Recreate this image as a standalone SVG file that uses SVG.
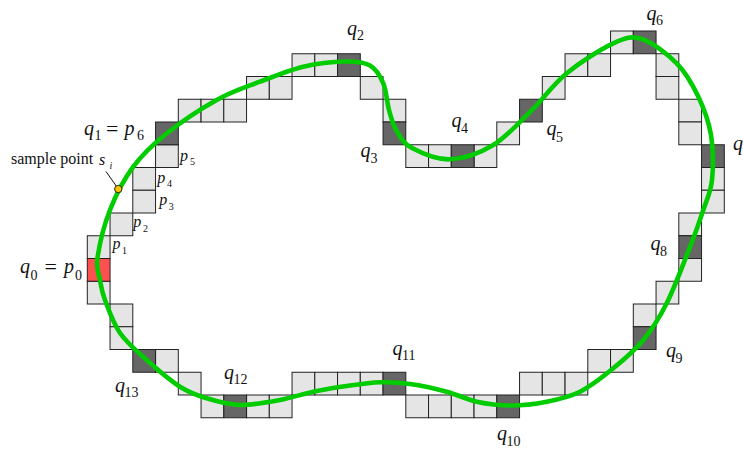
<svg xmlns="http://www.w3.org/2000/svg" width="743" height="453" viewBox="0 0 743 453">
<style>
.L{fill:#e5e5e5;stroke:#222;stroke-width:1}
.D{fill:#666;stroke:#222;stroke-width:1}
.R{fill:#ff5050;stroke:#222;stroke-width:1}
text{font-family:"Liberation Serif","Times New Roman",serif;fill:#111}
.m{font-style:italic;font-size:20px}
.s{font-style:normal;font-size:14px}
.eq{font-style:normal;font-size:22px}
.pm{font-style:italic;font-size:16px}
.ps{font-style:normal;font-size:10px}
.t{font-size:16px}
</style>
<g id="cells">
<g id="light-cells">
<rect class="L" x="87.3" y="235.75" width="22.75" height="22.75"/>
<rect class="L" x="87.3" y="281.25" width="22.75" height="22.75"/>
<rect class="L" x="110.05" y="213" width="22.75" height="22.75"/>
<rect class="L" x="110.05" y="304" width="22.75" height="22.75"/>
<rect class="L" x="110.05" y="326.75" width="22.75" height="22.75"/>
<rect class="L" x="132.8" y="167.5" width="22.75" height="22.75"/>
<rect class="L" x="132.8" y="190.25" width="22.75" height="22.75"/>
<rect class="L" x="155.55" y="144.75" width="22.75" height="22.75"/>
<rect class="L" x="155.55" y="349.5" width="22.75" height="22.75"/>
<rect class="L" x="178.3" y="99.25" width="22.75" height="22.75"/>
<rect class="L" x="178.3" y="372.25" width="22.75" height="22.75"/>
<rect class="L" x="201.05" y="99.25" width="22.75" height="22.75"/>
<rect class="L" x="201.05" y="395" width="22.75" height="22.75"/>
<rect class="L" x="223.8" y="99.25" width="22.75" height="22.75"/>
<rect class="L" x="246.55" y="76.5" width="22.75" height="22.75"/>
<rect class="L" x="246.55" y="395" width="22.75" height="22.75"/>
<rect class="L" x="269.3" y="76.5" width="22.75" height="22.75"/>
<rect class="L" x="269.3" y="395" width="22.75" height="22.75"/>
<rect class="L" x="292.05" y="53.75" width="22.75" height="22.75"/>
<rect class="L" x="292.05" y="372.25" width="22.75" height="22.75"/>
<rect class="L" x="314.8" y="53.75" width="22.75" height="22.75"/>
<rect class="L" x="314.8" y="372.25" width="22.75" height="22.75"/>
<rect class="L" x="337.55" y="372.25" width="22.75" height="22.75"/>
<rect class="L" x="360.3" y="76.5" width="22.75" height="22.75"/>
<rect class="L" x="360.3" y="372.25" width="22.75" height="22.75"/>
<rect class="L" x="383.05" y="99.25" width="22.75" height="22.75"/>
<rect class="L" x="405.8" y="144.75" width="22.75" height="22.75"/>
<rect class="L" x="405.8" y="395" width="22.75" height="22.75"/>
<rect class="L" x="428.55" y="144.75" width="22.75" height="22.75"/>
<rect class="L" x="428.55" y="395" width="22.75" height="22.75"/>
<rect class="L" x="451.3" y="395" width="22.75" height="22.75"/>
<rect class="L" x="474.05" y="144.75" width="22.75" height="22.75"/>
<rect class="L" x="474.05" y="395" width="22.75" height="22.75"/>
<rect class="L" x="496.8" y="122" width="22.75" height="22.75"/>
<rect class="L" x="519.55" y="372.25" width="22.75" height="22.75"/>
<rect class="L" x="542.3" y="76.5" width="22.75" height="22.75"/>
<rect class="L" x="542.3" y="372.25" width="22.75" height="22.75"/>
<rect class="L" x="565.05" y="53.75" width="22.75" height="22.75"/>
<rect class="L" x="565.05" y="372.25" width="22.75" height="22.75"/>
<rect class="L" x="587.8" y="53.75" width="22.75" height="22.75"/>
<rect class="L" x="587.8" y="349.5" width="22.75" height="22.75"/>
<rect class="L" x="610.55" y="31" width="22.75" height="22.75"/>
<rect class="L" x="610.55" y="349.5" width="22.75" height="22.75"/>
<rect class="L" x="633.3" y="304" width="22.75" height="22.75"/>
<rect class="L" x="656.05" y="53.75" width="22.75" height="22.75"/>
<rect class="L" x="656.05" y="76.5" width="22.75" height="22.75"/>
<rect class="L" x="656.05" y="281.25" width="22.75" height="22.75"/>
<rect class="L" x="678.8" y="99.25" width="22.75" height="22.75"/>
<rect class="L" x="678.8" y="122" width="22.75" height="22.75"/>
<rect class="L" x="678.8" y="213" width="22.75" height="22.75"/>
<rect class="L" x="678.8" y="258.5" width="22.75" height="22.75"/>
<rect class="L" x="701.55" y="167.5" width="22.75" height="22.75"/>
<rect class="L" x="701.55" y="190.25" width="22.75" height="22.75"/>
</g>
<g id="q-cells">
<rect id="cell-q0" class="R" x="87.3" y="258.5" width="22.75" height="22.75"/>
<rect id="cell-q1" class="D" x="155.55" y="122" width="22.75" height="22.75"/>
<rect id="cell-q2" class="D" x="337.55" y="53.75" width="22.75" height="22.75"/>
<rect id="cell-q3" class="D" x="383.05" y="122" width="22.75" height="22.75"/>
<rect id="cell-q4" class="D" x="451.3" y="144.75" width="22.75" height="22.75"/>
<rect id="cell-q5" class="D" x="519.55" y="99.25" width="22.75" height="22.75"/>
<rect id="cell-q6" class="D" x="633.3" y="31" width="22.75" height="22.75"/>
<rect id="cell-q7" class="D" x="701.55" y="144.75" width="22.75" height="22.75"/>
<rect id="cell-q8" class="D" x="678.8" y="235.75" width="22.75" height="22.75"/>
<rect id="cell-q9" class="D" x="633.3" y="326.75" width="22.75" height="22.75"/>
<rect id="cell-q10" class="D" x="496.8" y="395" width="22.75" height="22.75"/>
<rect id="cell-q11" class="D" x="383.05" y="372.25" width="22.75" height="22.75"/>
<rect id="cell-q12" class="D" x="223.8" y="395" width="22.75" height="22.75"/>
<rect id="cell-q13" class="D" x="132.8" y="349.5" width="22.75" height="22.75"/>
</g>
</g>
<g id="connectors">
<path id="contour" fill="none" stroke="#00cc00" stroke-width="4.6" stroke-linejoin="round" d="M97.5,258 C99.17,246.33 104.03,225.22 110,210 C115.97,194.78 123.97,179.37 133.3,166.7 C142.63,154.030 152.1,145.12 166,134 C179.9,122.88 201.03,108.72 216.7,100 C232.37,91.28 245.57,87.25 260,81.7 C274.43,76.15 289.13,70.07 303.3,66.7 C317.47,63.33 333.88,61.7 345,61.5 C356.12,61.3 363.62,61.87 370,65.5 C376.38,69.13 380.13,75.88 383.3,83.3 C386.47,90.72 386.77,102.05 389,110 C391.23,117.95 392.87,124.67 396.7,131 C400.53,137.33 403.12,143.28 412,148 C420.88,152.72 436.45,159.8 450,159.3 C463.55,158.8 479.75,153.12 493.3,145 C506.85,136.88 519.07,122.55 531.3,110.6 C543.53,98.65 553.03,84.52 566.7,73.3 C580.37,62.08 600.8,49.02 613.3,43.3 C625.8,37.58 631.13,35.67 641.7,39 C652.27,42.33 667.32,53.8 676.7,63.3 C686.08,72.8 692.28,84.05 698,96 C703.72,107.95 708.67,121 711,135 C713.33,149 713.28,167.5 712,180 C710.72,192.5 706.97,198.83 703.3,210 C699.63,221.17 696.1,231.45 690,247 C683.9,262.55 674.48,287.8 666.7,303.3 C658.92,318.8 652.2,329.17 643.3,340 C634.4,350.83 623.85,359.68 613.3,368.3 C602.75,376.92 591.1,386.13 580,391.7 C568.9,397.27 558.2,399.4 546.7,401.7 C535.2,404 522.67,405.5 511,405.5 C499.33,405.5 487.42,404 476.7,401.7 C465.98,399.4 457.82,394.65 446.7,391.7 C435.58,388.75 421.12,385.57 410,384 C398.88,382.43 390.55,381.97 380,382.3 C369.45,382.63 357.82,384.43 346.7,386 C335.58,387.57 324.42,389.37 313.3,391.7 C302.18,394.03 292.22,397.78 280,400 C267.78,402.22 252.22,405.28 240,405 C227.78,404.72 216.7,401.35 206.7,398.3 C196.7,395.25 190,393.08 180,386.7 C170,380.32 156.7,368.95 146.7,360 C136.7,351.05 126.95,343 120,333 C113.05,323 108.33,308.83 105,300 C101.67,291.17 101.25,287 100,280 C98.75,273 95.83,269.67 97.5,258 Z"/>
<line id="leader" x1="106" y1="171.5" x2="116.8" y2="186.8" stroke="#111" stroke-width="1"/>
</g>
<g id="sample-point">
<circle cx="118.3" cy="189" r="3.7" fill="#f5c400" stroke="#111" stroke-width="0.9"/>
<text class="t" x="11" y="164">sample point</text>
<text class="t" x="99" y="165" font-style="italic">s<tspan x="109.5" y="169" font-size="10">i</tspan></text>
</g>
<g id="labels-p">
<text class="pm" x="112.5" y="249">p<tspan class="ps" x="122" y="254">1</tspan></text>
<text class="pm" x="133.3" y="227">p<tspan class="ps" x="143" y="231.5">2</tspan></text>
<text class="pm" x="159.3" y="205">p<tspan class="ps" x="168.8" y="209.5">3</tspan></text>
<text class="pm" x="157.3" y="183">p<tspan class="ps" x="167" y="187">4</tspan></text>
<text class="pm" x="180" y="161">p<tspan class="ps" x="190" y="164.5">5</tspan></text>
</g>
<g id="labels-q">
<g id="label-q0"><text class="m" x="20" y="273">q<tspan class="s" x="30.5" y="279.5">0</tspan><tspan class="eq" x="44.5" y="273.5">=</tspan><tspan x="64" y="273">p</tspan><tspan class="s" x="75" y="279.5">0</tspan></text></g>
<g id="label-q1"><text class="m" x="84" y="135">q<tspan class="s" x="94.5" y="140">1</tspan><tspan class="eq" x="106" y="135.5">=</tspan><tspan x="124.5" y="135">p</tspan><tspan class="s" x="137" y="140">6</tspan></text></g>
<g id="label-q2"><text class="m" x="347" y="35">q<tspan class="s" x="357" y="39.5">2</tspan></text></g>
<g id="label-q3"><text class="m" x="360.5" y="156.5">q<tspan class="s" x="370.5" y="162.5">3</tspan></text></g>
<g id="label-q4"><text class="m" x="451.5" y="127">q<tspan class="s" x="461" y="132.5">4</tspan></text></g>
<g id="label-q5"><text class="m" x="546.5" y="135">q<tspan class="s" x="556" y="141.5">5</tspan></text></g>
<g id="label-q6"><text class="m" x="646.5" y="20">q<tspan class="s" x="656" y="25">6</tspan></text></g>
<g id="label-q7"><text class="m" x="733" y="150">q<tspan class="s" x="743" y="155">7</tspan></text></g>
<g id="label-q8"><text class="m" x="650.5" y="250">q<tspan class="s" x="660" y="255.5">8</tspan></text></g>
<g id="label-q9"><text class="m" x="666" y="357">q<tspan class="s" x="675.5" y="363">9</tspan></text></g>
<g id="label-q10"><text class="m" x="497" y="440">q<tspan class="s" x="506.5" y="446">10</tspan></text></g>
<g id="label-q11"><text class="m" x="392.5" y="355">q<tspan class="s" x="402" y="360">11</tspan></text></g>
<g id="label-q12"><text class="m" x="224" y="378.5">q<tspan class="s" x="233.5" y="384">12</tspan></text></g>
<g id="label-q13"><text class="m" x="115" y="391.5">q<tspan class="s" x="124.5" y="397">13</tspan></text></g>
</g>
</svg>
